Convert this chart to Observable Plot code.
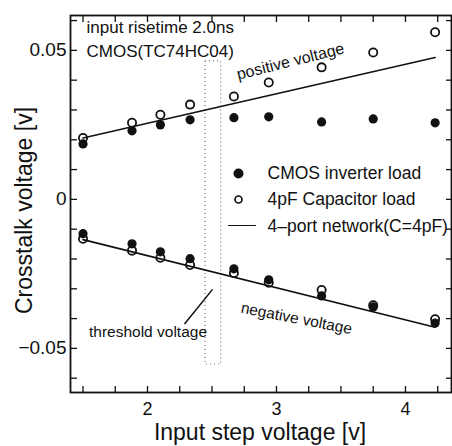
<!DOCTYPE html>
<html><head><meta charset="utf-8">
<script src="https://cdn.jsdelivr.net/npm/d3@7"></script>
<script src="https://cdn.jsdelivr.net/npm/@observablehq/plot@0.6"></script>
<style>html,body{margin:0;padding:0;background:#fff} svg{display:block}</style>
</head><body><div id="chart"></div>
<script>
// ---- data ----
const stepVoltage   = [1.5, 1.88, 2.1, 2.33, 2.67, 2.94, 3.35, 3.75, 4.23];
const cmosPositive  = [0.0186, 0.0230, 0.0250, 0.0267, 0.0274, 0.0277, 0.0260, 0.0270, 0.0257];
const capPositive   = [0.0206, 0.0257, 0.0284, 0.0318, 0.0345, 0.0392, 0.0443, 0.0493, 0.0561];
const cmosNegative  = [-0.0115, -0.0149, -0.0176, -0.0199, -0.0233, -0.0270, -0.0324, -0.0361, -0.0415];
const capNegative   = [-0.0132, -0.0172, -0.0196, -0.0220, -0.0247, -0.0280, -0.0304, -0.0355, -0.0402];
const networkX        = [1.5, 4.23];
const networkPositive = [0.0206, 0.0476];
const networkNegative = [-0.0135, -0.0429];
const thresholdX = [2.45, 2.57];
const thresholdY = [-0.0554, 0.0463];
const pointerX = [2.287, 2.504];
const pointerY = [-0.0418, -0.0302];
const xTickLabels = [2, 3, 4];
const yTickLabels = [-0.05, 0, 0.05];
const xMinorTicks = [1.5, 1.75, 2, 2.25, 2.5, 2.75, 3, 3.25, 3.5, 3.75, 4, 4.25];
const yMinorTicks = [-0.06, -0.05, -0.04, -0.03, -0.02, -0.01, 0, 0.01, 0.02, 0.03, 0.04, 0.05, 0.06];
const legendLabels = ["CMOS inverter load", "4pF Capacitor load", "4\u2013port network(C=4pF)"];
const noteLines = ["input risetime 2.0ns", "CMOS(TC74HC04)"];
const curveLabels = ["positive voltage", "negative voltage", "threshold voltage"];
const xLabel = "Input step voltage [v]";
const yLabel = "Crosstalk voltage [v]";

// ---- build tables ----
const pts = ys => stepVoltage.map((x, i) => ({x, y: ys[i]}));
const net = ys => networkX.map((x, i) => ({x, y: ys[i]}));
const box = [{x1: thresholdX[0], x2: thresholdX[1], y1: thresholdY[0], y2: thresholdY[1]}];
const pointer = [{x1: pointerX[0], y1: pointerY[0], x2: pointerX[1], y2: pointerY[1]}];

const ink = "#111";
const font = "'Liberation Sans', Arial, Helvetica, sans-serif";
const hLine = {draw(c, l) { c.moveTo(0, 0); c.lineTo(0, -l); }};
const label = (txt, opts) => Plot.text([txt], {frameAnchor: "top-left", textAnchor: "middle", lineAnchor: "middle", fill: ink, ...opts});

const chart = Plot.plot({
  width: 452, height: 446,
  marginLeft: 70, marginRight: 1, marginTop: 15, marginBottom: 54,
  style: {fontFamily: font, color: ink, background: "#fff", overflow: "visible"},
  x: {domain: [1.403, 4.357], axis: null},
  y: {domain: [-0.0648, 0.0617], axis: null},
  marks: [
    // ticks (inward) on all four sides
    Plot.axisX({ticks: xMinorTicks, anchor: "bottom", tickSize: -6, tickFormat: () => "", label: null, stroke: ink, strokeWidth: 1.3}),
    Plot.axisX({ticks: xMinorTicks, anchor: "top", tickSize: -6, tickFormat: () => "", label: null, stroke: ink, strokeWidth: 1.3}),
    Plot.axisY({ticks: yMinorTicks, anchor: "left", tickSize: -7, tickFormat: () => "", label: null, stroke: ink, strokeWidth: 1.3}),
    Plot.axisY({ticks: yMinorTicks, anchor: "right", tickSize: -6, tickFormat: () => "", label: null, stroke: ink, strokeWidth: 1.3}),
    // tick labels
    Plot.axisX({ticks: xTickLabels, anchor: "bottom", tickSize: 0, tickPadding: 10, fontSize: 18, label: null, fill: ink,
      tickFormat: d => String(d)}),
    Plot.axisY({ticks: yTickLabels, anchor: "left", tickSize: 0, tickPadding: 4, fontSize: 19, label: null, fill: ink,
      tickFormat: d => d === 0 ? "0" : d3.format(".2f")(d)}),
    Plot.frame({stroke: ink, strokeWidth: 1.8}),
    // threshold region
    Plot.rect(box, {x1: "x1", x2: "x2", y1: "y1", y2: "y2", fill: "none", stroke: "#777", strokeWidth: 1.2, strokeDasharray: "1,3"}),
    Plot.link(pointer, {x1: "x1", y1: "y1", x2: "x2", y2: "y2", stroke: ink, strokeWidth: 1.5}),
    // 4-port network lines
    Plot.line(net(networkPositive), {x: "x", y: "y", stroke: ink, strokeWidth: 1.7}),
    Plot.line(net(networkNegative), {x: "x", y: "y", stroke: ink, strokeWidth: 1.7}),
    // measurements
    Plot.dot(pts(cmosPositive), {x: "x", y: "y", r: 4.6, fill: ink}),
    Plot.dot(pts(cmosNegative), {x: "x", y: "y", r: 4.6, fill: ink}),
    Plot.dot(pts(capPositive), {x: "x", y: "y", r: 4.1, fill: "none", stroke: ink, strokeWidth: 1.8}),
    Plot.dot(pts(capNegative), {x: "x", y: "y", r: 4.1, fill: "none", stroke: ink, strokeWidth: 1.8}),
    // notes
    label(noteLines[0], {dx: 16, dy: 12, textAnchor: "start", fontSize: 17}),
    label(noteLines[1], {dx: 16, dy: 36.5, textAnchor: "start", fontSize: 17}),
    label(curveLabels[0], {dx: 220, dy: 46, rotate: -14, fontSize: 16}),
    label(curveLabels[1], {dx: 226, dy: 303, rotate: 11, fontSize: 15.5}),
    label(curveLabels[2], {dx: 77.5, dy: 317, fontSize: 15.5}),
    // legend
    Plot.dot([legendLabels[0]], {frameAnchor: "top-left", dx: 168, dy: 158, r: 5, fill: ink}),
    Plot.dot([legendLabels[1]], {frameAnchor: "top-left", dx: 168, dy: 184, r: 3.5, fill: "none", stroke: ink, strokeWidth: 1.7}),
    Plot.vector([legendLabels[2]], {frameAnchor: "top-left", dx: 158, dy: 210, length: 27, rotate: 90, anchor: "start", shape: hLine, stroke: ink, strokeWidth: 1.2}),
    label(legendLabels[0], {dx: 197, dy: 157.5, textAnchor: "start", fontSize: 17.5}),
    label(legendLabels[1], {dx: 197, dy: 184, textAnchor: "start", fontSize: 17.5}),
    label(legendLabels[2], {dx: 197, dy: 210.5, textAnchor: "start", fontSize: 17.5}),
    // axis titles
    Plot.text([xLabel], {frameAnchor: "bottom", textAnchor: "middle", lineAnchor: "middle", dx: -1, dy: 40.5, fontSize: 23, fill: ink}),
    Plot.text([yLabel], {frameAnchor: "left", textAnchor: "middle", lineAnchor: "middle", dx: -46, dy: 6.5, rotate: -90, fontSize: 23, fill: ink})
  ]
});
document.getElementById("chart").append(chart);
</script>
</body></html>
